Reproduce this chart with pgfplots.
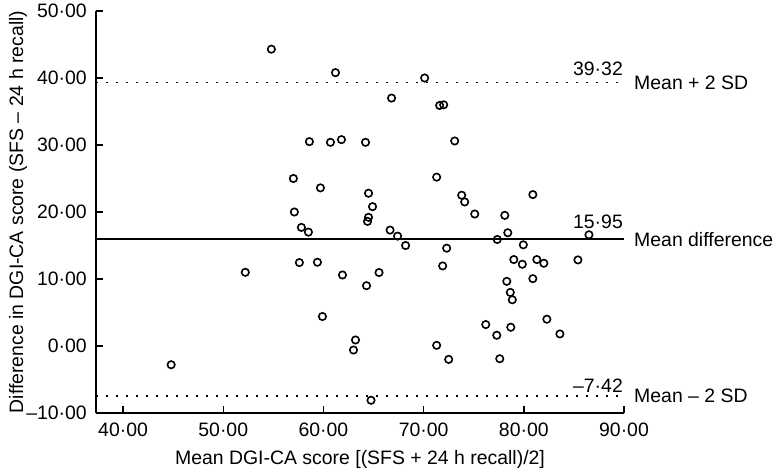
\documentclass[border=0pt]{standalone}
\usepackage{pgfplots}
\pgfplotsset{compat=1.18}
\usepackage{fontspec}
\setmainfont{Liberation Sans}

\begin{document}
\begin{tikzpicture}[x=1bp,y=1bp]
% fixed page size
\path (-96,-63) rectangle (679,413);
\begin{axis}[
  at={(0,0)}, anchor=south west,
  scale only axis, width=528bp, height=402bp,
  xmin=37.3, xmax=90, ymin=-10, ymax=50,
  axis x line*=bottom, axis y line*=left,
  axis line style={line width=1.4bp, black},
  tick align=inside, major tick length=7bp,
  tick style={line width=1.4bp, black},
  xtick={40,50,60,70,80,90},
  xticklabels={40·00,50·00,60·00,70·00,80·00,90·00},
  ytick={-10,0,10,20,30,40,50},
  yticklabels={–10·00,0·00,10·00,20·00,30·00,40·00,50·00},
  font=\fontsize{19.5}{23}\selectfont,
  xticklabel style={inner sep=0pt, yshift=-10bp},
  yticklabel style={inner sep=0pt, xshift=-9bp},
  xlabel={Mean DGI-CA score [(SFS + 24 h recall)/2]},
  ylabel={Difference in DGI-CA score (SFS – 24 h recall)},
  every axis x label/.style={at={(axis description cs:0.5,0)}, anchor=base, yshift=-52bp},
  every axis y label/.style={at={(axis description cs:-0.1477,0.5)}, rotate=90, anchor=center},
  clip=false,
]
% limits of agreement and mean difference
\addplot[black, line width=1.7bp, dash pattern=on 2bp off 8bp] coordinates {(37.3,39.32) (90,39.32)};
\addplot[black, line width=1.6bp] coordinates {(37.3,15.95) (90,15.95)};
\addplot[black, line width=1.7bp, dash pattern=on 2bp off 8bp] coordinates {(37.3,-7.42) (90,-7.42)};

\addplot[only marks, mark=o, mark size=3.7bp, mark options={line width=1.6bp, black}] coordinates {
 (44.8,-2.8) (52.2,11.0) (54.8,44.3) (61.2,40.8) (70.1,40.0) (66.8,37.0)
 (71.6,35.9) (72.0,36.0) (58.6,30.5) (60.7,30.4) (61.8,30.8) (64.2,30.4)
 (73.1,30.6) (57.0,25.0) (59.7,23.6) (71.3,25.2) (64.5,22.8) (73.8,22.5)
 (74.1,21.5) (64.9,20.8) (75.1,19.7) (78.1,19.5) (57.1,20.0) (64.5,19.2)
 (64.4,18.6) (57.8,17.7) (58.5,17.0) (66.65,17.3) (67.4,16.4) (77.35,15.9)
 (78.4,16.9) (68.2,15.0) (72.3,14.6) (71.9,11.95) (57.6,12.45) (59.4,12.5)
 (61.9,10.6) (65.55,10.96) (64.3,9.0) (78.3,9.65) (78.65,8.0) (78.85,6.9)
 (59.9,4.4) (76.2,3.2) (77.3,1.6) (78.7,2.8) (63.2,0.9) (63.0,-0.6)
 (71.3,0.1) (72.5,-2.0) (77.6,-1.9) (64.75,-8.1) (80.9,22.6) (86.5,16.6)
 (79.95,15.1) (79.0,12.9) (79.85,12.2) (81.3,12.9) (82.0,12.35) (85.4,12.85)
 (80.9,10.05) (82.3,4.0) (83.6,1.8)
};

\node[anchor=south east, inner sep=0pt, xshift=-1bp, yshift=7bp] at (axis cs:90,39.32) {39·32};
\node[anchor=south east, inner sep=0pt, xshift=-1bp, yshift=10bp] at (axis cs:90,15.95) {15·95};
\node[anchor=south east, inner sep=0pt, xshift=-1bp, yshift=3bp] at (axis cs:90,-7.42) {–7·42};
\node[anchor=west, inner sep=0pt, xshift=10bp] at (axis cs:90,39.32) {Mean + 2 SD};
\node[anchor=west, inner sep=0pt, xshift=10bp] at (axis cs:90,15.95) {Mean difference};
\node[anchor=west, inner sep=0pt, xshift=10bp] at (axis cs:90,-7.42) {Mean – 2 SD};
\end{axis}
\end{tikzpicture}
\end{document}
